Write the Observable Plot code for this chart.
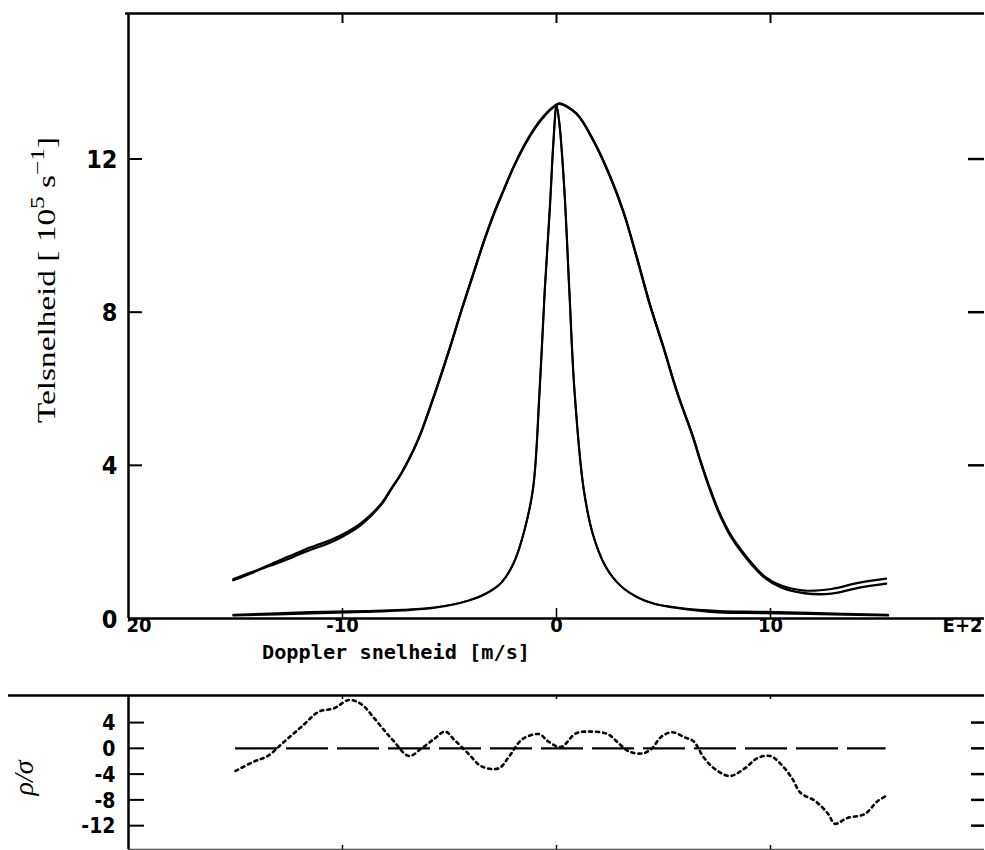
<!DOCTYPE html>
<html>
<head>
<meta charset="utf-8">
<script src="https://cdn.jsdelivr.net/npm/d3@7"></script>
<script src="https://cdn.jsdelivr.net/npm/@observablehq/plot@0.6"></script>
<style>
  html, body { margin: 0; padding: 0; background: #fff; }
  #chart svg { display: block; }
</style>
</head>
<body>
<div id="chart"></div>
<script>
// ---------- data (Doppler velocity in units of 100 m/s) ----------
const vBroad = [-15.1, -14.2, -13.3, -12.5, -11.75, -10.5, -9.8, -9.1, -8.18, -7.71, -7.24, -6.64, -6.3, -5.7, -5.05, -4.44, -3.83, -3.36, -2.9, -2.57, -1.96, -1.31, -0.7, -0.08, 0.14, 0.93, 1.73, 2.48, 3.13, 3.74, 4.35, 5.0, 5.61, 6.4, 6.7, 7.15, 7.6, 8.18, 8.97, 9.72, 10.5, 11.6, 12.85, 14.1, 15.4];
const broadData = [1.0, 1.2, 1.43, 1.62, 1.8, 2.06, 2.25, 2.5, 3.0, 3.4, 3.8, 4.45, 4.9, 5.85, 6.95, 8.05, 9.1, 9.9, 10.6, 11.05, 11.85, 12.55, 13.05, 13.39, 13.45, 13.19, 12.48, 11.58, 10.62, 9.45, 8.22, 7.08, 5.95, 4.7, 4.15, 3.4, 2.75, 2.11, 1.51, 1.07, 0.81, 0.66, 0.65, 0.8, 0.91];
const broadFit = [1.03, 1.22, 1.39, 1.56, 1.74, 2.0, 2.2, 2.46, 2.98, 3.39, 3.8, 4.45, 4.9, 5.85, 6.95, 8.05, 9.1, 9.91, 10.62, 11.06, 11.84, 12.53, 13.03, 13.38, 13.44, 13.18, 12.47, 11.57, 10.61, 9.46, 8.23, 7.08, 5.96, 4.71, 4.17, 3.43, 2.78, 2.15, 1.55, 1.1, 0.86, 0.73, 0.77, 0.93, 1.04];

const vNarrow = [-15.1, -11.5, -9, -7.2, -5.7, -4.1, -3.2, -2.57, -2.0, -1.5, -1.09, -0.79, -0.55, -0.31, -0.14, 0, 0.14, 0.37, 0.6, 0.84, 1.26, 1.7, 2.3, 3.0, 3.8, 4.6, 5.84, 7.6, 9.5, 11.8, 15.5];
const narrowData = [0.08, 0.13, 0.17, 0.21, 0.28, 0.47, 0.68, 0.94, 1.45, 2.3, 3.42, 5.95, 8.56, 10.73, 12.48, 13.4, 12.9, 11.17, 8.56, 5.95, 3.42, 2.2, 1.35, 0.85, 0.55, 0.38, 0.26, 0.16, 0.14, 0.12, 0.08];
const narrowFit = [0.1, 0.17, 0.2, 0.23, 0.29, 0.47, 0.68, 0.94, 1.45, 2.3, 3.42, 5.95, 8.56, 10.73, 12.48, 13.4, 12.9, 11.17, 8.56, 5.95, 3.42, 2.2, 1.35, 0.85, 0.55, 0.38, 0.27, 0.2, 0.18, 0.15, 0.1];

const vResid = [-15.0, -14.1, -13.5, -12.7, -11.9, -11.1, -10.4, -9.7, -9.1, -8.5, -8.0, -7.6, -6.9, -6.3, -5.7, -5.2, -4.8, -4.1, -3.5, -2.7, -2.2, -1.6, -0.8, -0.4, 0.2, 0.9, 1.6, 2.4, 2.9, 3.4, 4.0, 4.4, 4.9, 5.4, 6.0, 6.4, 6.9, 7.4, 8.1, 8.8, 9.4, 10.0, 10.5, 11.0, 11.4, 12.1, 12.7, 13.0, 13.6, 14.4, 15.0, 15.4];
const residual = [-3.5, -2.0, -1.2, 1.1, 3.4, 5.7, 6.2, 7.5, 6.8, 4.6, 2.6, 1.1, -1.2, 0, 1.5, 2.6, 1.4, -0.9, -2.8, -3.1, -1.2, 1.4, 2.2, 1.1, 0.2, 2.3, 2.6, 2.2, 0.8, -0.5, -0.8, -0.2, 1.8, 2.5, 1.7, 1.1, -1.5, -3.2, -4.3, -3.1, -1.5, -1.2, -2.5, -4.6, -6.9, -8.2, -10.2, -11.7, -10.8, -10.2, -8.2, -7.4];

// ---------- ticks & labels ----------
const xTickMarks = [-10, 0, 10];
const xTickValues = [-20, -10, 0, 10, 20];
const xTickTexts = ["20", "-10", "0", "10", "E+2"];
const yTickMarksTop = [4, 8, 12];
const yTickValuesTop = [0, 4, 8, 12];
const yTickTextsTop = ["0", "4", "8", "12"];
const residTickValues = [4, 0, -4, -8, -12];
const residTickTexts = ["4", "0", "-4", "-8", "-12"];
const xTitle = "Doppler snelheid [m/s]";
const yTitleMain = "Telsnelheid [ 10";
const yTitleExp1 = "5";
const yTitleUnit = " s";
const yTitleExp2 = "\u22121";
const yTitleEnd = "]";
const residTitle = "\u03c1/\u03c3";

// ---------- derived tables ----------
const broadRows = vBroad.map((v, i) => ({v, data: broadData[i], fit: broadFit[i]}));
const narrowRows = vNarrow.map((v, i) => ({v, data: narrowData[i], fit: narrowFit[i]}));
const residRows = vResid.map((v, i) => ({v, r: residual[i]}));
const xLabelRows = xTickValues.map((v, i) => ({v, t: xTickTexts[i]}));
const yLabelRows = yTickValuesTop.map((v, i) => ({v, t: yTickTextsTop[i]}));
const residLabelRows = residTickValues.map((v, i) => ({v, t: residTickTexts[i]}));

const xDomain = [-20, 20];
const yDomainTop = [0, 15.8];
const yDomainBottom = [-15.7, 8.2];
const W = 985;
const blockFont = "'DejaVu Sans Condensed','DejaVu Sans',sans-serif";

const topPlot = Plot.plot({
  width: W, height: 680,
  marginLeft: 128, marginRight: 1, marginTop: 13, marginBottom: 62,
  x: {domain: xDomain, axis: null},
  y: {domain: yDomainTop, axis: null},
  style: {background: "white", overflow: "visible"},
  marks: [
    Plot.ruleX([xDomain[0]], {stroke: "black", strokeWidth: 2.5}),
    Plot.ruleY([0], {stroke: "black", strokeWidth: 2.5}),
    Plot.ruleY([yDomainTop[1]], {stroke: "black", strokeWidth: 2.5, insetLeft: -3}),
    Plot.ruleY(yTickMarksTop, {x1: xDomain[0], x2: xDomain[0], insetRight: -14, stroke: "black", strokeWidth: 2}),
    Plot.ruleY(yTickMarksTop, {x1: xDomain[1], x2: xDomain[1], insetLeft: -16, stroke: "black", strokeWidth: 2.5}),
    Plot.ruleX(xTickMarks, {y1: 0, y2: 0, insetTop: -10, stroke: "black", strokeWidth: 1.5}),
    Plot.ruleX(xTickMarks, {y1: yDomainTop[1], y2: yDomainTop[1], insetBottom: -10, stroke: "black", strokeWidth: 2}),
    Plot.line(narrowRows, {x: "v", y: "fit", stroke: "black", strokeWidth: 1.8, curve: "catmull-rom"}),
    Plot.line(narrowRows, {x: "v", y: "data", stroke: "black", strokeWidth: 2.2, curve: "catmull-rom"}),
    Plot.line(broadRows, {x: "v", y: "fit", stroke: "black", strokeWidth: 2.2, curve: "catmull-rom"}),
    Plot.line(broadRows, {x: "v", y: "data", stroke: "black", strokeWidth: 2.4, curve: "catmull-rom"}),
    Plot.text(yLabelRows, {x: xDomain[0], y: "v", text: "t", textAnchor: "end", dx: -11, dy: 1,
      fontFamily: blockFont, fontWeight: "bold", fontSize: 25}),
    Plot.text(xLabelRows.slice(1, 4), {x: "v", y: 0, text: "t", textAnchor: "middle", lineAnchor: "top", dy: -1,
      fontFamily: blockFont, fontWeight: "bold", fontSize: 20}),
    Plot.text(xLabelRows.slice(0, 1), {x: "v", y: 0, text: "t", textAnchor: "start", lineAnchor: "top", dy: -1, dx: -2,
      fontFamily: blockFont, fontWeight: "bold", fontSize: 20}),
    Plot.text(xLabelRows.slice(4), {x: "v", y: 0, text: "t", textAnchor: "end", lineAnchor: "top", dy: -1, dx: -2,
      fontFamily: blockFont, fontWeight: "bold", fontSize: 20})
  ]
});

const bottomPlot = Plot.plot({
  width: W, height: 170,
  marginLeft: 128, marginRight: 1, marginTop: 15, marginBottom: 1,
  x: {domain: xDomain, axis: null},
  y: {domain: yDomainBottom, axis: null},
  style: {background: "white", overflow: "visible"},
  marks: [
    Plot.ruleY([yDomainBottom[1]], {stroke: "black", strokeWidth: 2.5, insetLeft: -120}),
    Plot.ruleY([yDomainBottom[0]], {stroke: "#555", strokeWidth: 1.5}),
    Plot.ruleX([xDomain[0]], {stroke: "black", strokeWidth: 2.5}),
    Plot.ruleY(residTickValues, {x1: xDomain[0], x2: xDomain[0], insetRight: -16, stroke: "black", strokeWidth: 2}),
    Plot.ruleY(residTickValues, {x1: xDomain[1], x2: xDomain[1], insetLeft: -13, stroke: "black", strokeWidth: 2.5}),
    Plot.ruleX(xTickMarks, {y1: yDomainBottom[1], y2: yDomainBottom[1], insetBottom: -4, stroke: "black", strokeWidth: 1.5}),
    Plot.ruleX(xTickMarks, {y1: yDomainBottom[0], y2: yDomainBottom[0], insetTop: -4, stroke: "black", strokeWidth: 1.5}),
    Plot.ruleY([0], {x1: vResid[0], x2: vResid[vResid.length - 1], stroke: "black", strokeWidth: 2.2, strokeDasharray: "42,9"}),
    Plot.line(residRows, {x: "v", y: "r", stroke: "black", strokeWidth: 2.6, strokeDasharray: "3,4", curve: "catmull-rom"}),
    Plot.text(residLabelRows, {x: xDomain[0], y: "v", text: "t", textAnchor: "end", dx: -13, dy: 1,
      fontFamily: blockFont, fontWeight: "bold", fontSize: 21})
  ]
});

const chart = document.getElementById("chart");
chart.appendChild(topPlot);
chart.appendChild(bottomPlot);

// condensed plotter-like tick labels
d3.selectAll("#chart g[aria-label='text'] text").style("font-stretch", "condensed");

// ---------- titles ----------
const topSvg = d3.select(topPlot);
const yLab = topSvg.append("text")
  .attr("transform", "translate(55,280) rotate(-90)")
  .attr("text-anchor", "middle")
  .attr("font-family", "'Liberation Serif','DejaVu Serif',serif")
  .attr("font-size", 25)
  .attr("fill", "black")
  .attr("textLength", 286)
  .attr("lengthAdjust", "spacingAndGlyphs");
yLab.append("tspan").text(yTitleMain);
yLab.append("tspan").attr("dy", -11).attr("font-size", 19).text(yTitleExp1);
yLab.append("tspan").attr("dy", 11).text(yTitleUnit);
yLab.append("tspan").attr("dy", -11).attr("font-size", 19).text(yTitleExp2);
yLab.append("tspan").attr("dy", 11).text(yTitleEnd);

topSvg.append("text")
  .attr("x", 396).attr("y", 659)
  .attr("text-anchor", "middle")
  .attr("font-family", "'DejaVu Sans Mono','Liberation Mono',monospace")
  .attr("font-weight", "bold")
  .attr("font-size", 20)
  .attr("fill", "black")
  .attr("textLength", 268)
  .attr("lengthAdjust", "spacingAndGlyphs")
  .text(xTitle);

d3.select(bottomPlot).append("text")
  .attr("transform", "translate(33,98) rotate(-90)")
  .attr("text-anchor", "middle")
  .attr("font-family", "'Liberation Serif','DejaVu Serif',serif")
  .attr("font-style", "italic")
  .attr("font-size", 28)
  .attr("fill", "black")
  .text(residTitle);
</script>
</body>
</html>
